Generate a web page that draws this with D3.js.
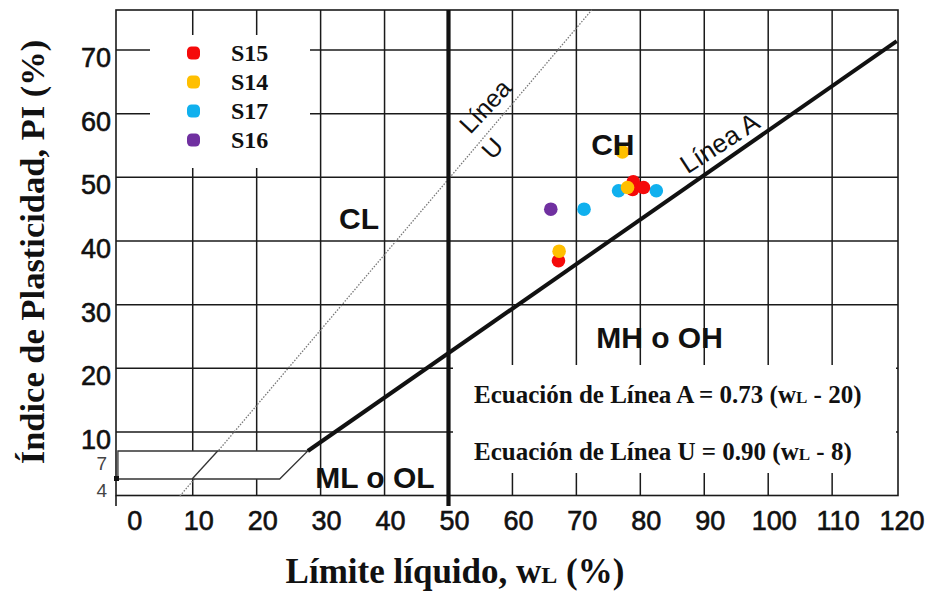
<!DOCTYPE html>
<html><head><meta charset="utf-8">
<script src="https://cdn.jsdelivr.net/npm/d3@7"></script>
<style>body{margin:0;background:#fff}svg{display:block}</style>
</head><body><svg id="c" width="935" height="592"></svg>
<script>
// ---------- data ----------
const xTicks = [0,10,20,30,40,50,60,70,80,90,100,110,120];
const yTicks = [10,20,30,40,50,60,70];
const ySmallTicks = [7,4];
const seriesNames = ["S15","S14","S17","S16"];
const seriesColors = ["#f50a0a","#ffbf00","#10b0ee","#7030a0"];
const s15 = [[78.9,49.3],[78.8,48.1],[80.5,48.4],[67.2,36.9]];
const s14 = [[77.2,54.0],[78.0,48.4],[67.3,38.4]];
const s17 = [[76.6,47.9],[71.2,45.0],[82.5,47.9]];
const s16 = [[66.0,45.0]];
const lineA = [[28.0,7],[120.1,71.4]];
const lineU = [[8.0,0],[72.4,76.3]];
const zoneOutline = [[-1.7,4],[-1.7,7],[28.0,7],[23.6,4]];
const zoneU = [[9.9,4],[13.9,7]];
const eqLines = ["Ecuación de Línea A = 0.73 (w|L| - 20)","Ecuación de Línea U = 0.90 (w|L| - 8)"];

// ---------- scales ----------
const svg = d3.select("#c");
const x = d3.scaleLinear().domain([-2,120.3]).range([116,898]);
const y = d3.scaleLinear().domain([0,4,7,76.3]).range([496,479,451,10]);
const pTop = y(76.3), pBot = 495.5, pLeft = x(-2), pRight = x(120.3);
const ink = "#1a1a1a";
const sans = "'Liberation Sans', Arial, sans-serif";
const serif = "'Liberation Serif', 'Times New Roman', serif";

// grid
const g = svg.append("g");
g.selectAll(".vg").data(xTicks.filter(d => d > 0 && d < 120)).enter().append("line")
  .attr("x1", d => x(d)).attr("x2", d => x(d)).attr("y1", pTop).attr("y2", pBot)
  .attr("stroke", ink).attr("stroke-width", 1.5);
g.selectAll(".hg").data(yTicks).enter().append("line")
  .attr("x1", pLeft).attr("x2", pRight).attr("y1", d => y(d)).attr("y2", d => y(d))
  .attr("stroke", ink).attr("stroke-width", 1.5);
// frame
g.append("rect").attr("x", pLeft).attr("y", pTop).attr("width", pRight - pLeft).attr("height", pBot - pTop)
  .attr("fill", "none").attr("stroke", ink).attr("stroke-width", 1.6);
g.append("line").attr("x1", pLeft).attr("x2", pLeft).attr("y1", pBot).attr("y2", 506)
  .attr("stroke", ink).attr("stroke-width", 1.6);

// white panels (legend and equations)
svg.append("rect").attr("x", 150).attr("y", 35).attr("width", 160).attr("height", 133).attr("fill", "#fff");
svg.append("rect").attr("x", 453).attr("y", 365).attr("width", 443).attr("height", 108).attr("fill", "#fff");

// U line (dotted)
const line = d3.line().x(d => x(d[0])).y(d => y(d[1]));
svg.append("path").attr("d", line(lineU)).attr("fill", "none")
  .attr("stroke", "#777").attr("stroke-width", 1.3).attr("stroke-dasharray", "1.5,1.5");
// CL-ML zone
svg.append("path").attr("d", line(zoneOutline) + "Z").attr("fill", "#fff")
  .attr("stroke", "#333").attr("stroke-width", 1.3);
svg.append("path").attr("d", line(zoneU)).attr("fill", "none")
  .attr("stroke", "#333").attr("stroke-width", 1.3);
svg.append("rect").attr("x", x(-2) - 2).attr("y", y(4) - 3).attr("width", 5).attr("height", 5).attr("fill", "#111");
// A line
svg.append("path").attr("d", line(lineA)).attr("fill", "none")
  .attr("stroke", "#111").attr("stroke-width", 4);
// wL = 50 line
svg.append("line").attr("x1", x(50)).attr("x2", x(50)).attr("y1", pTop).attr("y2", 506)
  .attr("stroke", "#111").attr("stroke-width", 4.2);

// points
const series = [s17, s16, s15, s14];
const seriesIdx = [2, 3, 0, 1];
series.forEach((s, i) => {
  svg.append("g").selectAll("circle").data(s).enter().append("circle")
    .attr("cx", d => x(d[0])).attr("cy", d => y(d[1])).attr("r", 6.8)
    .attr("fill", seriesColors[seriesIdx[i]]);
});

// legend
const lg = svg.append("g");
seriesNames.forEach((n, i) => {
  const cy = 53 + i * 29;
  lg.append("rect").attr("x", 187).attr("y", cy - 6.5).attr("width", 13).attr("height", 13).attr("rx", 4.5)
    .attr("fill", seriesColors[i]);
  lg.append("text").attr("x", 231).attr("y", cy + 8).text(n)
    .attr("font-family", serif).attr("font-weight", "bold").attr("font-size", 24).attr("fill", "#111");
});

// axis tick labels
svg.selectAll(".xt").data(xTicks).enter().append("text")
  .attr("x", d => x(d) + 6).attr("y", 530).attr("text-anchor", "middle").text(d => d)
  .attr("font-family", sans).attr("font-size", 27).attr("fill", "#111")
  .attr("stroke", "#111").attr("stroke-width", 0.6);
svg.selectAll(".yt").data(yTicks).enter().append("text")
  .attr("x", 111).attr("y", d => y(d) + 17).attr("text-anchor", "end").text(d => d)
  .attr("font-family", sans).attr("font-size", 27).attr("fill", "#111")
  .attr("stroke", "#111").attr("stroke-width", 0.6);
svg.selectAll(".ys").data(ySmallTicks).enter().append("text")
  .attr("x", 107).attr("y", (d, i) => y(d) + (i === 0 ? 19 : 18)).attr("text-anchor", "end").text(d => d)
  .attr("font-family", sans).attr("font-size", 19).attr("fill", "#444");

// axis titles
const xt = svg.append("text").attr("x", 455).attr("y", 583).attr("text-anchor", "middle")
  .attr("font-family", serif).attr("font-weight", "bold").attr("font-size", 35).attr("fill", "#111");
xt.append("tspan").text("Límite líquido, w");
xt.append("tspan").text("L").attr("font-size", 24);
xt.append("tspan").text(" (%)");
svg.append("text").attr("transform", "translate(44,252) rotate(-90)").attr("text-anchor", "middle")
  .attr("font-family", serif).attr("font-weight", "bold").attr("font-size", 34.5).attr("fill", "#111")
  .text("Índice de Plasticidad, PI (%)");

// region labels
const region = (t, wl, pi) => svg.append("text").attr("x", x(wl)).attr("y", y(pi)).attr("text-anchor", "middle")
  .attr("font-family", sans).attr("font-weight", "bold").attr("font-size", 30).attr("fill", "#111").text(t);
region("CL", 36.0, 41.9);
region("CH", 75.7, 53.5);
region("MH o OH", 83.0, 23.2);
region("ML o OL", 38.5, 1.9);

// line labels
const lab = (t, cx, cy, ang, fs) => svg.append("text")
  .attr("transform", `translate(${cx},${cy}) rotate(${ang})`).attr("text-anchor", "middle")
  .attr("dominant-baseline", "central")
  .attr("font-family", sans).attr("font-size", fs).attr("fill", "#111").text(t);
lab("Línea", x(55.7), y(61.2), -47, 25);
lab("U", x(56.8), y(54.6), -47, 25);
lab("Línea A", x(92.4), y(55.4), -33, 26);

// equations
eqLines.forEach((t, i) => {
  const parts = t.split("|");
  const tx = svg.append("text").attr("x", x(54.0)).attr("y", 403 + i * 57)
    .attr("font-family", serif).attr("font-weight", "bold").attr("font-size", 25).attr("fill", "#111");
  tx.append("tspan").text(parts[0]);
  tx.append("tspan").text(parts[1]).attr("font-size", 17);
  tx.append("tspan").text(parts[2]);
});
</script></body></html>
